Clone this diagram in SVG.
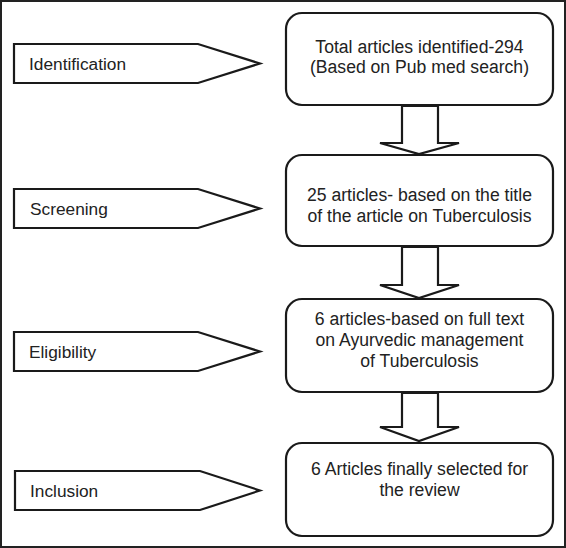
<svg xmlns="http://www.w3.org/2000/svg" width="566" height="548" viewBox="0 0 566 548">
<style>
.frame{fill:#fff;stroke:#222;stroke-width:2}
.box{fill:#fff;stroke:#1a1a1a;stroke-width:2.2}
.tag{fill:#fff;stroke:#1a1a1a;stroke-width:2.2;stroke-linejoin:miter}
.arr{fill:#fff;stroke:#1a1a1a;stroke-width:2.2;stroke-linejoin:miter}
text{font-family:"Liberation Sans",Arial,sans-serif;font-size:17.3px;fill:#222}
.c{text-anchor:middle;font-size:17.6px}
</style>
<rect class="frame" x="1" y="1" width="564" height="546"/>
<g id="stage-identification">
<polygon class="tag" points="14,44 198,44 260,63.5 198,83 14,83"/>
<text x="29" y="70">Identification</text>
</g>
<g id="stage-screening">
<polygon class="tag" points="14,189 198,189 260,208.5 198,228 14,228"/>
<text x="30" y="215">Screening</text>
</g>
<g id="stage-eligibility">
<polygon class="tag" points="14,332 198,332 260,351.5 198,371 14,371"/>
<text x="29" y="358">Eligibility</text>
</g>
<g id="stage-inclusion">
<polygon class="tag" points="15,471 200,471 260,490.5 200,510 15,510"/>
<text x="30" y="497">Inclusion</text>
</g>
<g id="box-identified">
<rect class="box" x="286" y="13" width="267" height="92" rx="16"/>
<text class="c" x="419.5" y="53">Total articles identified-294</text>
<text class="c" x="419.5" y="73">(Based on Pub med search)</text>
</g>
<g id="box-screened">
<rect class="box" x="286" y="155" width="267" height="91" rx="16"/>
<text class="c" x="419.5" y="201">25 articles- based on the title</text>
<text class="c" x="419.5" y="222">of the article on Tuberculosis</text>
</g>
<g id="box-eligible">
<rect class="box" x="286" y="299" width="267" height="93" rx="16"/>
<text class="c" x="419.5" y="325">6 articles-based on full text</text>
<text class="c" x="419.5" y="346">on Ayurvedic management</text>
<text class="c" x="419.5" y="367">of Tuberculosis</text>
</g>
<g id="box-included">
<rect class="box" x="286" y="443" width="267" height="93" rx="16"/>
<text class="c" x="419.5" y="475">6 Articles finally selected for</text>
<text class="c" x="419.5" y="496">the review</text>
</g>
<g id="connectors">
<polygon class="arr" points="402,106 438,106 438,143 459,143 419,154 380,143 402,143"/>
<polygon class="arr" points="402,247 438,247 438,285 459,285 419,298 380,285 402,285"/>
<polygon class="arr" points="402,393 438,393 438,427 459,427 419,441 380,427 402,427"/>
</g>
</svg>
